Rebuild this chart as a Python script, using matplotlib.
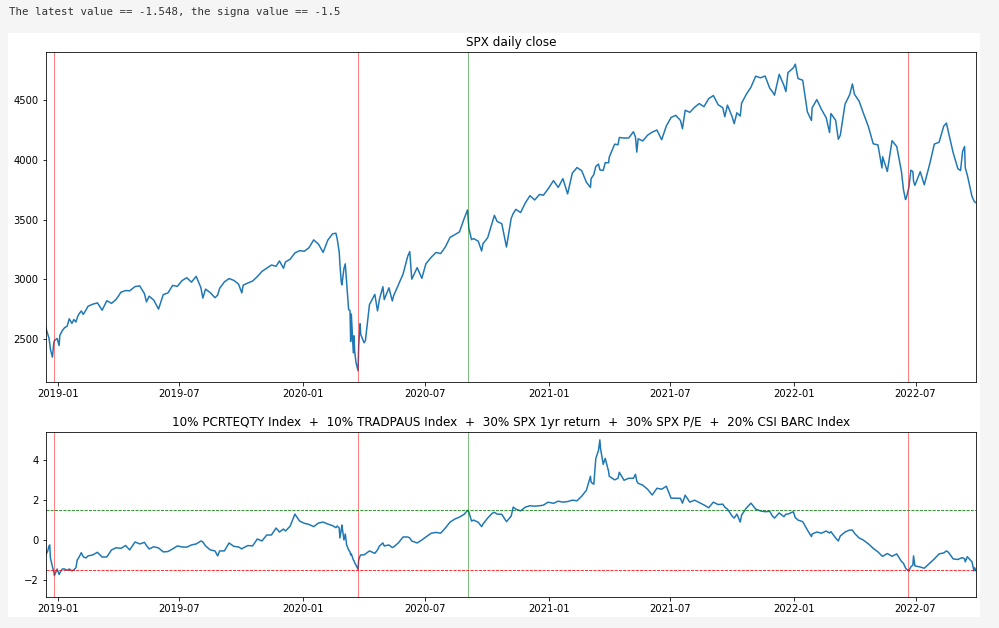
import matplotlib
matplotlib.use("Agg")
import matplotlib.pyplot as plt
import matplotlib.dates as mdates
from matplotlib.patches import Rectangle
import pandas as pd

dates = [
    "2018-12-14", "2018-12-17", "2018-12-19", "2018-12-20", "2018-12-21", "2018-12-24", "2018-12-26", "2018-12-27",
    "2018-12-31", "2019-01-03", "2019-01-04", "2019-01-08", "2019-01-11", "2019-01-15", "2019-01-18", "2019-01-22",
    "2019-01-25", "2019-01-28", "2019-01-30", "2019-02-01", "2019-02-05", "2019-02-08", "2019-02-12", "2019-02-15",
    "2019-02-22", "2019-03-01", "2019-03-08", "2019-03-15", "2019-03-22", "2019-03-29", "2019-04-05", "2019-04-12",
    "2019-04-18", "2019-04-26", "2019-05-03", "2019-05-10", "2019-05-13", "2019-05-17", "2019-05-24", "2019-05-31",
    "2019-06-07", "2019-06-14", "2019-06-21", "2019-06-28", "2019-07-05", "2019-07-12", "2019-07-19", "2019-07-26",
    "2019-08-02", "2019-08-05", "2019-08-09", "2019-08-16", "2019-08-23", "2019-08-27", "2019-08-30", "2019-09-06",
    "2019-09-13", "2019-09-20", "2019-09-27", "2019-10-02", "2019-10-04", "2019-10-11", "2019-10-18", "2019-10-25",
    "2019-11-01", "2019-11-08", "2019-11-15", "2019-11-22", "2019-11-27", "2019-12-03", "2019-12-06", "2019-12-13",
    "2019-12-20", "2019-12-27", "2020-01-03", "2020-01-10", "2020-01-17", "2020-01-24", "2020-01-31", "2020-02-07",
    "2020-02-14", "2020-02-19", "2020-02-21", "2020-02-24", "2020-02-25", "2020-02-27", "2020-02-28", "2020-03-02",
    "2020-03-04", "2020-03-06", "2020-03-09", "2020-03-11", "2020-03-12", "2020-03-13", "2020-03-16", "2020-03-17",
    "2020-03-18", "2020-03-20", "2020-03-23", "2020-03-24", "2020-03-26", "2020-03-27", "2020-04-01", "2020-04-03",
    "2020-04-09", "2020-04-17", "2020-04-21", "2020-04-24", "2020-04-29", "2020-05-01", "2020-05-08", "2020-05-13",
    "2020-05-15", "2020-05-22", "2020-05-29", "2020-06-05", "2020-06-08", "2020-06-11", "2020-06-19", "2020-06-26",
    "2020-07-02", "2020-07-10", "2020-07-17", "2020-07-24", "2020-07-31", "2020-08-07", "2020-08-14", "2020-08-21",
    "2020-08-28", "2020-09-02", "2020-09-04", "2020-09-08", "2020-09-11", "2020-09-18", "2020-09-23", "2020-09-25",
    "2020-10-02", "2020-10-09", "2020-10-12", "2020-10-16", "2020-10-23", "2020-10-30", "2020-11-06", "2020-11-09",
    "2020-11-13", "2020-11-20", "2020-11-27", "2020-12-04", "2020-12-11", "2020-12-18", "2020-12-24", "2020-12-31",
    "2021-01-08", "2021-01-15", "2021-01-22", "2021-01-29", "2021-02-05", "2021-02-12", "2021-02-19", "2021-02-26",
    "2021-03-04", "2021-03-05", "2021-03-09", "2021-03-12", "2021-03-16", "2021-03-18", "2021-03-19", "2021-03-23",
    "2021-03-26", "2021-03-31", "2021-04-01", "2021-04-09", "2021-04-14", "2021-04-16", "2021-04-23", "2021-04-30",
    "2021-05-07", "2021-05-10", "2021-05-12", "2021-05-14", "2021-05-21", "2021-05-28", "2021-06-04", "2021-06-11",
    "2021-06-18", "2021-06-25", "2021-07-02", "2021-07-09", "2021-07-16", "2021-07-19", "2021-07-23", "2021-07-30",
    "2021-08-06", "2021-08-13", "2021-08-20", "2021-08-27", "2021-09-03", "2021-09-10", "2021-09-17", "2021-09-20",
    "2021-09-24", "2021-10-01", "2021-10-04", "2021-10-08", "2021-10-13", "2021-10-15", "2021-10-22", "2021-10-29",
    "2021-11-05", "2021-11-12", "2021-11-19", "2021-11-26", "2021-11-30", "2021-12-03", "2021-12-10", "2021-12-17",
    "2021-12-20", "2021-12-23", "2021-12-31", "2022-01-03", "2022-01-07", "2022-01-14", "2022-01-21", "2022-01-27",
    "2022-01-28", "2022-02-04", "2022-02-11", "2022-02-18", "2022-02-23", "2022-02-25", "2022-03-04", "2022-03-08",
    "2022-03-11", "2022-03-18", "2022-03-25", "2022-03-29", "2022-04-01", "2022-04-08", "2022-04-14", "2022-04-22",
    "2022-04-29", "2022-05-06", "2022-05-12", "2022-05-13", "2022-05-20", "2022-05-27", "2022-06-03", "2022-06-10",
    "2022-06-13", "2022-06-16", "2022-06-17", "2022-06-21", "2022-06-24", "2022-06-27", "2022-06-28", "2022-06-30",
    "2022-07-08", "2022-07-14", "2022-07-22", "2022-07-29", "2022-08-05", "2022-08-12", "2022-08-16", "2022-08-19",
    "2022-08-26", "2022-09-02", "2022-09-06", "2022-09-09", "2022-09-12", "2022-09-13", "2022-09-16", "2022-09-23",
    "2022-09-26", "2022-09-27", "2022-09-29",
]

spx_close = [
    2600, 2546, 2507, 2467, 2417, 2351, 2468, 2489,
    2507, 2448, 2532, 2575, 2596, 2610, 2671, 2633,
    2665, 2644, 2681, 2707, 2737, 2708, 2745, 2776,
    2793, 2804, 2743, 2822, 2800, 2834, 2893, 2907,
    2905, 2940, 2946, 2881, 2812, 2860, 2826, 2752,
    2873, 2887, 2950, 2942, 2990, 3014, 2977, 3026,
    2932, 2844, 2919, 2889, 2847, 2869, 2926, 2979,
    3007, 2992, 2962, 2887, 2952, 2970, 2986, 3023,
    3067, 3093, 3120, 3110, 3154, 3093, 3146, 3169,
    3221, 3240, 3235, 3265, 3330, 3295, 3226, 3328,
    3380, 3386, 3338, 3226, 3128, 2979, 2954, 3090,
    3130, 2972, 2747, 2741, 2481, 2711, 2386, 2529,
    2398, 2305, 2237, 2447, 2630, 2541, 2471, 2489,
    2790, 2875, 2737, 2837, 2939, 2831, 2930, 2820,
    2864, 2955, 3044, 3194, 3232, 3002, 3098, 3009,
    3130, 3185, 3225, 3216, 3271, 3351, 3373, 3397,
    3508, 3580, 3427, 3332, 3341, 3319, 3237, 3298,
    3348, 3477, 3535, 3484, 3465, 3270, 3510, 3550,
    3585, 3558, 3638, 3699, 3663, 3709, 3703, 3756,
    3825, 3768, 3841, 3714, 3887, 3934, 3907, 3811,
    3768, 3842, 3875, 3943, 3963, 3915, 3913, 3910,
    3975, 3973, 4020, 4129, 4124, 4185, 4180, 4181,
    4233, 4189, 4063, 4174, 4156, 4204, 4230, 4247,
    4166, 4281, 4352, 4370, 4327, 4258, 4412, 4395,
    4437, 4468, 4442, 4509, 4535, 4459, 4433, 4358,
    4455, 4357, 4300, 4391, 4364, 4471, 4545, 4605,
    4697, 4683, 4698, 4595, 4567, 4538, 4712, 4620,
    4568, 4726, 4766, 4797, 4677, 4663, 4398, 4327,
    4432, 4501, 4419, 4349, 4226, 4385, 4329, 4170,
    4204, 4463, 4543, 4632, 4546, 4488, 4393, 4272,
    4132, 4123, 3930, 4024, 3901, 4158, 4109, 3901,
    3750, 3667, 3675, 3765, 3912, 3900, 3821, 3785,
    3899, 3790, 3962, 4130, 4145, 4280, 4305, 4228,
    4058, 3924, 3909, 4067, 4110, 3932, 3873, 3693,
    3655, 3647, 3640,
]

composite = [
    -0.75, -0.55, -0.30, -0.25, -0.90, -1.34, -1.59, -1.79,
    -1.46, -1.73, -1.65, -1.45, -1.46, -1.52, -1.46, -1.55,
    -1.50, -1.39, -1.00, -0.90, -0.64, -0.85, -0.90, -0.80,
    -0.75, -0.62, -0.86, -0.85, -0.50, -0.39, -0.42, -0.28,
    -0.50, -0.10, -0.20, -0.12, -0.28, -0.45, -0.34, -0.40,
    -0.60, -0.58, -0.45, -0.30, -0.35, -0.36, -0.25, -0.20,
    -0.05, -0.10, -0.30, -0.50, -0.55, -0.80, -0.55, -0.55,
    -0.15, -0.32, -0.35, -0.45, -0.40, -0.28, -0.30, 0.05,
    -0.05, 0.25, 0.25, 0.60, 0.40, 0.55, 0.45, 0.70,
    1.30, 0.95, 0.84, 0.78, 0.67, 0.85, 0.90, 0.80,
    0.72, 0.62, 0.70, 0.60, 0.10, 0.50, 0.75, 0.00,
    0.30, -0.25, -0.50, -0.60, -0.75, -0.70, -1.00, -1.05,
    -1.15, -1.26, -1.48, -1.00, -0.80, -0.75, -0.75, -0.70,
    -0.55, -0.67, -0.50, -0.30, -0.15, -0.30, -0.25, -0.38,
    -0.35, -0.15, 0.15, 0.15, 0.10, -0.05, -0.15, 0.00,
    0.15, 0.34, 0.38, 0.34, 0.60, 0.90, 1.05, 1.15,
    1.29, 1.49, 1.40, 0.95, 1.00, 0.89, 0.67, 0.80,
    1.10, 1.35, 1.39, 1.30, 1.29, 0.92, 1.20, 1.65,
    1.55, 1.46, 1.65, 1.72, 1.70, 1.72, 1.75, 1.90,
    1.84, 1.95, 1.90, 1.93, 2.00, 1.97, 2.20, 2.50,
    3.20, 2.90, 2.80, 4.10, 4.50, 5.03, 4.60, 3.80,
    4.10, 3.45, 3.20, 3.02, 3.10, 3.40, 3.00, 3.10,
    3.10, 3.30, 2.95, 2.85, 2.75, 2.55, 2.26, 2.60,
    2.55, 2.70, 2.10, 2.10, 2.09, 1.85, 2.25, 1.90,
    2.00, 1.88, 1.76, 1.62, 1.90, 1.78, 1.80, 1.65,
    1.55, 1.20, 1.10, 1.30, 0.90, 1.25, 1.60, 1.85,
    1.55, 1.46, 1.42, 1.44, 1.20, 1.10, 1.36, 1.17,
    1.30, 1.30, 1.42, 1.12, 1.00, 0.92, 0.50, 0.17,
    0.30, 0.40, 0.34, 0.45, 0.35, 0.42, 0.10, -0.05,
    0.20, 0.40, 0.50, 0.50, 0.34, 0.10, 0.00, -0.20,
    -0.42, -0.60, -0.80, -0.82, -0.68, -0.82, -0.70, -1.08,
    -1.17, -1.40, -1.45, -1.56, -1.35, -1.26, -0.80, -1.30,
    -1.36, -1.42, -1.17, -0.95, -0.70, -0.65, -0.55, -0.62,
    -0.95, -0.98, -0.92, -0.89, -0.95, -1.10, -0.84, -1.10,
    -1.55, -1.40, -1.548,
]

sell_dates = ["2018-12-26", "2020-03-23", "2022-06-20"]
buy_dates = ["2020-09-03"]
upper_band = 1.5
lower_band = -1.5

top_title = "SPX daily close"
bottom_title = ("10% PCRTEQTY Index  +  10% TRADPAUS Index  +  30% SPX 1yr return  "
                "+  30% SPX P/E  +  20% CSI BARC Index")
header = "The latest value == -1.548, the signa value == -1.5"

x = pd.to_datetime(dates)

DPI = 72
fig = plt.figure(figsize=(999 / DPI, 628 / DPI), dpi=DPI, facecolor="#f5f5f5")
fig.add_artist(Rectangle((8 / 999, 11 / 628), 972 / 999, 584 / 628,
                         transform=fig.transFigure, facecolor="white",
                         edgecolor="none", zorder=-10))
fig.text(9 / 999, 1 - 12 / 628, header, family="DejaVu Sans Mono",
         fontsize=10.7, va="center", ha="left", color="#333333")

ax1 = fig.add_axes([45.7 / 999, (628 - 381.7) / 628, 930.3 / 999, 329.4 / 628])
ax2 = fig.add_axes([45.7 / 999, (628 - 596.7) / 628, 930.3 / 999, 165 / 628])

ax1.plot(x, spx_close, color="#1f77b4", lw=1.5)
ax2.plot(x, composite, color="#1f77b4", lw=1.5)

for ax in (ax1, ax2):
    for d in sell_dates:
        ax.axvline(pd.Timestamp(d), color="red", alpha=0.5, lw=1)
    for d in buy_dates:
        ax.axvline(pd.Timestamp(d), color="green", alpha=0.5, lw=1)
    ax.set_xlim(x[0], x[-1])
    ax.xaxis.set_major_locator(mdates.MonthLocator(bymonth=[1, 7]))
    ax.xaxis.set_major_formatter(mdates.DateFormatter("%Y-%m"))

ax2.axhline(upper_band, color="green", ls="--", lw=0.8)
ax2.axhline(lower_band, color="red", ls="--", lw=0.8)

ax1.set_ylim(2146, 4896)
ax2.set_ylim(-2.85, 5.44)

ax1.set_title(top_title, fontsize=12)
ax2.set_title(bottom_title, fontsize=12)

fig.savefig("out.png", dpi=DPI, facecolor=fig.get_facecolor())
